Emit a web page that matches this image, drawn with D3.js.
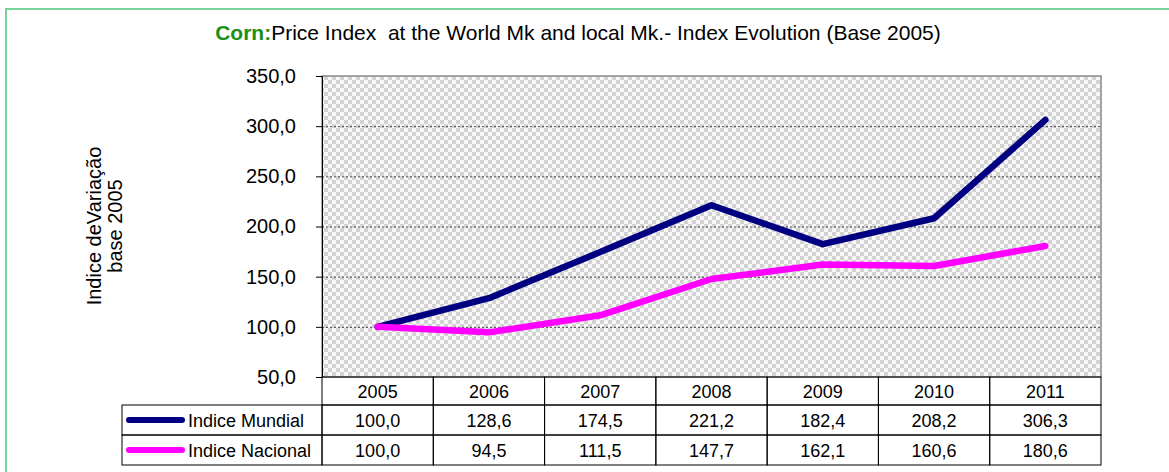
<!DOCTYPE html>
<html>
<head>
<meta charset="utf-8">
<script src="https://cdn.jsdelivr.net/npm/d3@7"></script>
<style>
  body { margin: 0; background: white; }
  svg { font-family: "Liberation Sans", Arial, sans-serif; }
</style>
</head>
<body>
<div id="chart"></div>
<script>
var width = 1169, height = 472;

var years = ['2005', '2006', '2007', '2008', '2009', '2010', '2011'];
var mundial = [100.0, 128.6, 174.5, 221.2, 182.4, 208.2, 306.3];
var nacional = [100.0, 94.5, 111.5, 147.7, 162.1, 160.6, 180.6];
var yTicks = [50, 100, 150, 200, 250, 300, 350];

var series = [
  { name: 'Indice Mundial', color: '#000080', values: mundial },
  { name: 'Indice Nacional', color: '#ff00ff', values: nacional }
];

var plotLeft = 322, plotRight = 1101, plotTop = 76, plotBottom = 377;
var rowH = 28;

var svg = d3.select('#chart').append('svg')
  .attr('width', width)
  .attr('height', height);

// checker pattern for plot background
var defs = svg.append('defs');
var pat = defs.append('pattern')
  .attr('id', 'checker')
  .attr('patternUnits', 'userSpaceOnUse')
  .attr('width', 8).attr('height', 8);
pat.append('rect').attr('width', 8).attr('height', 8).attr('fill', '#f7f7f7');
pat.append('rect').attr('width', 4).attr('height', 4).attr('fill', '#d2d2d2');
pat.append('rect').attr('x', 4).attr('y', 4).attr('width', 4).attr('height', 4).attr('fill', '#d2d2d2');

// outer green frame
svg.append('path')
  .attr('d', 'M6,' + height + 'V9H' + width)
  .attr('fill', 'none')
  .attr('stroke', '#77d39a')
  .attr('stroke-width', 2);

var x = d3.scaleBand().domain(years).range([plotLeft, plotRight]);
var y = d3.scaleLinear().domain([50, 350]).range([plotBottom, plotTop]);

svg.append('rect')
  .attr('x', plotLeft).attr('y', plotTop)
  .attr('width', plotRight - plotLeft).attr('height', plotBottom - plotTop)
  .attr('fill', 'url(#checker)');

// gridlines
svg.selectAll('.grid')
  .data(yTicks.slice(1, -1))
  .enter().append('line')
  .attr('x1', plotLeft).attr('x2', plotRight)
  .attr('y1', function(d) { return y(d) + 0.5; })
  .attr('y2', function(d) { return y(d) + 0.5; })
  .attr('stroke', '#444')
  .attr('stroke-dasharray', '2,2');

// plot border
svg.append('rect')
  .attr('x', plotLeft).attr('y', plotTop)
  .attr('width', plotRight - plotLeft).attr('height', plotBottom - plotTop)
  .attr('fill', 'none')
  .attr('stroke', '#888')
  .attr('stroke-width', 1.5);

// y axis
var yAxis = d3.axisLeft(y)
  .tickValues(yTicks)
  .tickSize(6)
  .tickPadding(20)
  .tickFormat(function(d) { return d3.format('.1f')(d).replace('.', ','); });

var ya = svg.append('g')
  .attr('transform', 'translate(' + plotLeft + ',0)')
  .call(yAxis);
ya.select('.domain').attr('stroke', '#000');
ya.selectAll('.tick line').attr('stroke', '#000');
ya.selectAll('.tick text')
  .attr('font-size', 20)
  .attr('fill', '#000')
  .style('font-family', '"Liberation Sans", Arial, sans-serif');

// y axis title
var yt = svg.append('text')
  .attr('transform', 'translate(101,226) rotate(-90)')
  .attr('text-anchor', 'middle')
  .attr('font-size', 20);
yt.append('tspan').attr('x', 0).attr('dy', 0).text('Indice deVariação');
yt.append('tspan').attr('x', 0).attr('dy', 21).text('base 2005');

// lines
var line = d3.line()
  .x(function(d, i) { return x(years[i]) + x.bandwidth() / 2; })
  .y(function(d) { return y(d); });

svg.selectAll('.series')
  .data(series)
  .enter().append('path')
  .attr('d', function(d) { return line(d.values); })
  .attr('fill', 'none')
  .attr('stroke', function(d) { return d.color; })
  .attr('stroke-width', 6.5)
  .attr('stroke-linecap', 'round')
  .attr('stroke-linejoin', 'round');

// title
var title = svg.append('text')
  .attr('x', 578).attr('y', 40)
  .attr('text-anchor', 'middle')
  .attr('font-size', 21)
  .style('white-space', 'pre');
title.append('tspan').attr('fill', '#1a8f1a').attr('font-weight', 'bold').text('Corn:');
title.append('tspan').attr('fill', '#000').text('Price Index  at the World Mk and local Mk.- Index Evolution (Base 2005)');

// data table
var tableLeft = 122;
var table = svg.append('g');

table.selectAll('.hcell')
  .data(years)
  .enter().append('rect')
  .attr('x', function(d) { return x(d); })
  .attr('y', plotBottom)
  .attr('width', x.bandwidth())
  .attr('height', rowH)
  .attr('fill', 'none')
  .attr('stroke', '#000');

table.selectAll('.htext')
  .data(years)
  .enter().append('text')
  .attr('x', function(d) { return x(d) + x.bandwidth() / 2; })
  .attr('y', plotBottom + 21)
  .attr('text-anchor', 'middle')
  .attr('font-size', 18)
  .text(function(d) { return d; });

var rows = table.selectAll('.row')
  .data(series)
  .enter().append('g')
  .attr('transform', function(d, i) { return 'translate(0,' + (plotBottom + rowH + i * 30) + ')'; });

rows.append('rect')
  .attr('x', tableLeft).attr('y', 0)
  .attr('width', plotLeft - tableLeft).attr('height', 30)
  .attr('fill', 'none').attr('stroke', '#000');

rows.append('line')
  .attr('x1', 129).attr('x2', 182)
  .attr('y1', 15).attr('y2', 15)
  .attr('stroke', function(d) { return d.color; })
  .attr('stroke-width', 6)
  .attr('stroke-linecap', 'round');

rows.append('text')
  .attr('x', 188).attr('y', 22)
  .attr('font-size', 18)
  .text(function(d) { return d.name; });

rows.selectAll('.cell')
  .data(function(d) { return d.values; })
  .enter().append('rect')
  .attr('x', function(d, i) { return x(years[i]); })
  .attr('y', 0)
  .attr('width', x.bandwidth()).attr('height', 30)
  .attr('fill', 'none').attr('stroke', '#000');

rows.selectAll('.val')
  .data(function(d) { return d.values; })
  .enter().append('text')
  .attr('x', function(d, i) { return x(years[i]) + x.bandwidth() / 2; })
  .attr('y', 22)
  .attr('text-anchor', 'middle')
  .attr('font-size', 18)
  .text(function(d) { return d3.format('.1f')(d).replace('.', ','); });
</script>
</body>
</html>
